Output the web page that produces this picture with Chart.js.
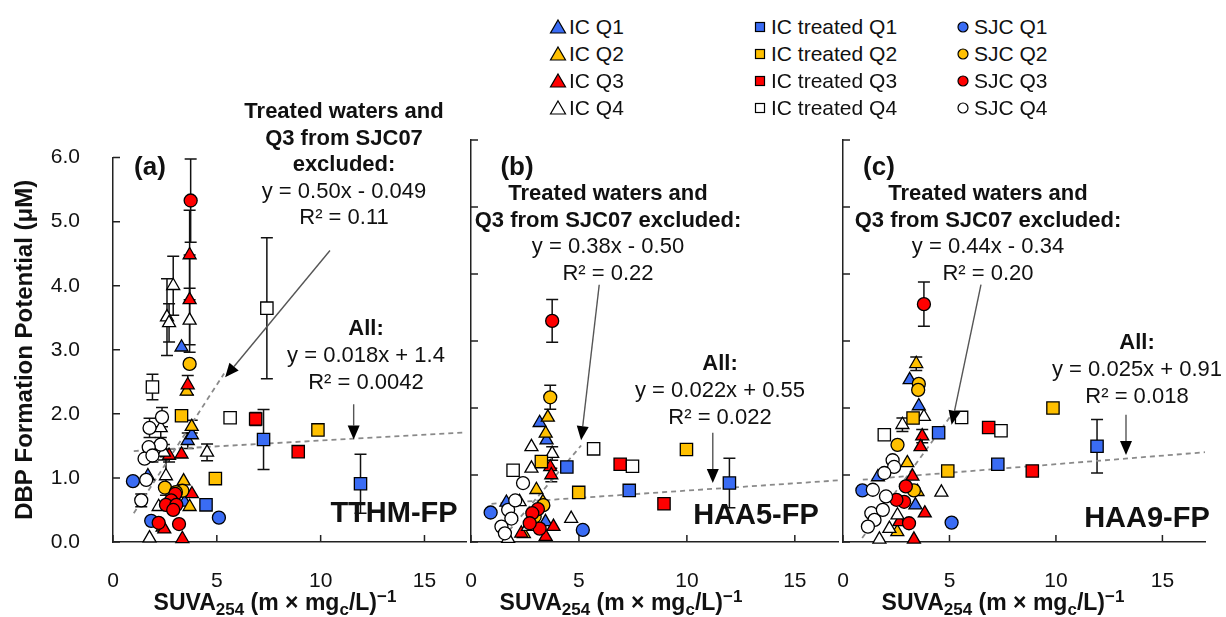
<!DOCTYPE html>
<html>
<head>
<meta charset="utf-8">
<script src="https://cdn.jsdelivr.net/npm/chart.js@4.4.1/dist/chart.umd.min.js"></script>
<style>
  body { margin: 0; width: 1226px; height: 617px; background: #fff; position: relative; overflow: hidden;
         font-family: "Liberation Sans", Arial, sans-serif; color: #111; }
  canvas { position: absolute; top: 120px; }
  .note { position: absolute; transform: translateX(-50%); text-align: center; white-space: nowrap;
          font-size: 22px; line-height: 26.5px; }
  .lab { position: absolute; transform: translate(-50%, -50%); font-weight: bold; font-size: 26px; white-space: nowrap; }
  .big { position: absolute; transform: translate(-50%, -50%); font-weight: bold; font-size: 29px; white-space: nowrap; }
  .xt { position: absolute; transform: translate(-50%, -50%); font-weight: bold; font-size: 23px; white-space: nowrap; }
  .xt .sb { font-size: 17px; position: relative; top: 5px; }
  .xt .sp { font-size: 17px; position: relative; top: -8px; }
  .leg { position: absolute; display: flex; align-items: center; height: 26px; font-size: 21px; white-space: nowrap; }
  .leg svg { width: 20px; height: 20px; margin-right: 1px; }
</style>
</head>
<body>
<canvas id="tthm" width="476" height="497" style="left:0px"></canvas>
<canvas id="haa5" width="448" height="497" style="left:400px"></canvas>
<canvas id="haa9" width="443" height="497" style="left:772px"></canvas>

<div id="legend"></div>

<div class="lab" style="left:150px; top:166px">(a)</div>
<div class="lab" style="left:517px; top:166px">(b)</div>
<div class="lab" style="left:879px; top:166px">(c)</div>

<div class="note" style="left:344px; top:98px"><b>Treated waters and<br>Q3 from SJC07<br>excluded:</b><br>y = 0.50x - 0.049<br>R² = 0.11</div>
<div class="note" style="left:366px; top:314px; line-height:27px"><b>All:</b><br>y = 0.018x + 1.4<br>R² = 0.0042</div>

<div class="note" style="left:608px; top:180px"><b>Treated waters and<br>Q3 from SJC07 excluded:</b><br>y = 0.38x - 0.50<br>R² = 0.22</div>
<div class="note" style="left:720px; top:349px; line-height:27px"><b>All:</b><br>y = 0.022x + 0.55<br>R² = 0.022</div>

<div class="note" style="left:988px; top:180px"><b>Treated waters and<br>Q3 from SJC07 excluded:</b><br>y = 0.44x - 0.34<br>R² = 0.20</div>
<div class="note" style="left:1137px; top:328px; line-height:27px"><b>All:</b><br>y = 0.025x + 0.91<br>R² = 0.018</div>

<div class="big" style="left:394px; top:512px">TTHM-FP</div>
<div class="big" style="left:756px; top:514px">HAA5-FP</div>
<div class="big" style="left:1147px; top:517px">HAA9-FP</div>

<div class="xt" style="left:275px; top:602px">SUVA<span class="sb">254</span> (m × mg<span class="sb">c</span>/L)<span class="sp">−1</span></div>
<div class="xt" style="left:621px; top:602px">SUVA<span class="sb">254</span> (m × mg<span class="sb">c</span>/L)<span class="sp">−1</span></div>
<div class="xt" style="left:1003px; top:602px">SUVA<span class="sb">254</span> (m × mg<span class="sb">c</span>/L)<span class="sp">−1</span></div>

<script>
// Ejes
const xTicks = [0, 5, 10, 15];
const yTicks = [0, 1, 2, 3, 4, 5, 6];

// Series: [SUVA, DBP-FP, error]
// (a) TTHM-FP
const tthmIcQ1 = [[1.68,1.03,0],[3.3,3.04,0],[3.6,1.58,0.12],[3.8,1.67,0],[3.45,0.62,0]];
const tthmIcQ2 = [[3.79,1.8,0.1],[3.69,0.55,0],[2.39,0.23,0],[3.55,2.35,0],[3.4,0.95,0]];
const tthmIcQ3 = [[3.69,4.48,0.7],[3.69,3.78,0.7],[3.6,2.45,0.15],[2.7,1.35,0.1],[3.3,1.37,0],[3.8,0.75,0],[2.47,0.2,0],[3.34,0.05,0]];
const tthmIcQ4 = [[2.9,4.0,0.46],[2.6,3.51,0.6],[2.7,3.42,0.3],[3.69,3.46,0.5],[2.3,1.78,0.15],[2.55,1.03,0.3],[4.53,1.4,0.13],[2.2,0.55,0],[1.76,0.06,0],[2.45,1.4,0.12]];
const tthmTrQ1 = [[4.48,0.58,0],[7.25,1.6,0.47],[11.92,0.91,0.46]];
const tthmTrQ2 = [[3.3,1.97,0],[4.93,0.99,0],[9.87,1.75,0]];
const tthmTrQ3 = [[6.87,1.92,0.1],[8.92,1.41,0]];
const tthmTrQ4 = [[1.9,2.42,0.2],[5.64,1.94,0],[7.41,3.65,1.1]];
const tthmSjcQ1 = [[0.96,0.95,0],[1.84,0.33,0],[5.1,0.38,0]];
const tthmSjcQ2 = [[3.69,2.78,0],[2.5,0.85,0],[3.34,0.8,0],[3.03,0.78,0]];
const tthmSjcQ3 = [[3.74,5.33,0.65],[3.0,0.75,0],[2.8,0.65,0],[2.55,0.58,0],[3.05,0.58,0],[2.2,0.3,0],[3.18,0.28,0],[2.9,0.5,0]];
const tthmSjcQ4 = [[2.36,1.95,0.15],[1.76,1.78,0.15],[2.3,1.52,0],[1.72,1.48,0],[1.52,1.3,0],[1.6,0.97,0],[1.36,0.65,0.1],[1.9,1.35,0.1]];

// (b) HAA5-FP
const haa5IcQ1 = [[1.64,0.59,0],[3.18,1.78,0],[3.5,1.52,0],[3.45,0.3,0]];
const haa5IcQ2 = [[3.56,1.86,0],[3.46,1.62,0],[3.03,0.78,0],[3.33,0.6,0],[2.45,0.12,0]];
const haa5IcQ3 = [[3.67,1.12,0],[3.72,1.0,0.1],[3.82,0.23,0],[3.46,0.08,0],[2.33,0.13,0],[2.75,0.32,0]];
const haa5IcQ4 = [[2.8,1.42,0],[3.76,1.32,0.1],[2.8,1.1,0],[2.64,0.23,0],[4.64,0.35,0],[1.72,0.05,0],[2.25,0.6,0]];
const haa5TrQ1 = [[4.44,1.12,0],[7.33,0.77,0],[11.97,0.88,0.37]];
const haa5TrQ2 = [[3.26,1.2,0],[4.99,0.74,0],[9.98,1.38,0]];
const haa5TrQ3 = [[6.91,1.16,0],[8.94,0.57,0]];
const haa5TrQ4 = [[1.95,1.07,0],[5.68,1.39,0],[7.48,1.13,0]];
const haa5SjcQ1 = [[0.91,0.44,0],[5.18,0.18,0]];
const haa5SjcQ2 = [[3.67,2.16,0.18],[3.35,0.55,0],[2.95,0.38,0]];
const haa5SjcQ3 = [[3.76,3.3,0.32],[3.1,0.49,0],[2.84,0.43,0],[3.18,0.2,0],[2.72,0.28,0]];
const haa5SjcQ4 = [[2.41,0.88,0],[1.72,0.48,0],[1.87,0.35,0],[1.41,0.23,0],[1.57,0.13,0],[2.05,0.62,0]];

// (c) HAA9-FP
const haa9IcQ1 = [[1.64,0.97,0],[3.13,2.42,0],[3.56,2.03,0],[3.4,0.55,0]];
const haa9IcQ2 = [[3.44,2.66,0.1],[3.02,1.18,0],[3.5,0.75,0],[2.55,0.15,0]];
const haa9IcQ3 = [[3.72,1.58,0.1],[3.64,1.42,0],[3.26,0.98,0],[3.84,0.43,0],[3.33,0.04,0],[2.65,0.3,0]];
const haa9IcQ4 = [[3.8,1.87,0],[2.79,1.75,0.1],[2.56,0.4,0],[2.18,0.2,0],[4.62,0.74,0],[1.71,0.04,0]];
const haa9TrQ1 = [[4.49,1.63,0],[7.27,1.16,0],[11.93,1.43,0.4]];
const haa9TrQ2 = [[3.29,1.85,0],[4.92,1.06,0],[9.86,2.0,0]];
const haa9TrQ3 = [[6.84,1.71,0],[8.89,1.06,0]];
const haa9TrQ4 = [[1.94,1.6,0],[5.57,1.86,0],[7.42,1.66,0]];
const haa9SjcQ1 = [[0.91,0.77,0],[5.1,0.29,0]];
const haa9SjcQ2 = [[3.56,2.36,0],[3.53,2.27,0],[2.56,1.45,0],[3.33,0.77,0]];
const haa9SjcQ3 = [[3.8,3.55,0.33],[2.95,0.83,0],[2.87,0.6,0],[2.51,0.63,0],[3.1,0.28,0]];
const haa9SjcQ4 = [[2.33,1.22,0],[2.4,1.12,0],[1.94,1.03,0],[1.4,0.78,0],[2.02,0.68,0],[1.33,0.43,0],[1.48,0.33,0],[1.17,0.23,0],[1.87,0.48,0]];

// Lineas de tendencia (extremos)
const tthmTrendAll = [[1.0,1.42],[17,1.71]];
const tthmTrendExcl = [[1.0,0.45],[5.35,2.63]];
const haa5TrendAll = [[0.95,0.57],[17,0.92]];
const haa5TrendExcl = [[1.5,0.07],[5.1,1.44]];
const haa9TrendAll = [[0.93,0.93],[17,1.34]];
const haa9TrendExcl = [[0.9,0.06],[5.1,1.9]];

// Flechas: [desde, hasta] en unidades de datos
const tthmArrows = [[[10.45,4.55],[5.4,2.57]], [[11.59,2.15],[11.59,1.6]]];
const haa5Arrows = [[[5.94,3.84],[5.1,1.52]], [[11.2,1.63],[11.2,0.88]]];
const haa9Arrows = [[[6.48,3.84],[5.1,1.75]], [[13.29,1.9],[13.29,1.3]]];

const BLUE = '#3a6cf4', YELLOW = '#ffc000', RED = '#ff0000', WHITE = '#ffffff';
const FONT = '"Liberation Sans", Arial, sans-serif';

const series = [
  { label: 'IC Q1', shape: 'triangle', color: BLUE },
  { label: 'IC Q2', shape: 'triangle', color: YELLOW },
  { label: 'IC Q3', shape: 'triangle', color: RED },
  { label: 'IC Q4', shape: 'triangle', color: WHITE },
  { label: 'IC treated Q1', shape: 'rect', color: BLUE },
  { label: 'IC treated Q2', shape: 'rect', color: YELLOW },
  { label: 'IC treated Q3', shape: 'rect', color: RED },
  { label: 'IC treated Q4', shape: 'rect', color: WHITE },
  { label: 'SJC Q1', shape: 'circle', color: BLUE },
  { label: 'SJC Q2', shape: 'circle', color: YELLOW },
  { label: 'SJC Q3', shape: 'circle', color: RED },
  { label: 'SJC Q4', shape: 'circle', color: WHITE }
];
const radius = { triangle: 7.5, rect: 8.7, circle: 6.5 };

Chart.defaults.font.family = FONT;
Chart.defaults.color = '#111';

// Barras de error
const errorBars = {
  id: 'errorBars',
  beforeDatasetsDraw(chart) {
    const { ctx, scales: { x, y } } = chart;
    ctx.save();
    ctx.strokeStyle = '#111';
    ctx.lineWidth = 1.5;
    chart.data.datasets.forEach(ds => {
      ds.data.forEach(p => {
        if (!p.err) return;
        const px = x.getPixelForValue(p.x);
        const top = y.getPixelForValue(p.y + p.err);
        const bot = y.getPixelForValue(Math.max(0, p.y - p.err));
        ctx.beginPath();
        ctx.moveTo(px, top); ctx.lineTo(px, bot);
        ctx.moveTo(px - 6, top); ctx.lineTo(px + 6, top);
        ctx.moveTo(px - 6, bot); ctx.lineTo(px + 6, bot);
        ctx.stroke();
      });
    });
    ctx.restore();
  }
};

// Marcas de eje hacia dentro
const inTicks = {
  id: 'inTicks',
  beforeDatasetsDraw(chart) {
    const { ctx, chartArea: a, scales: { x, y } } = chart;
    ctx.save();
    ctx.strokeStyle = '#222';
    ctx.lineWidth = 1.5;
    ctx.beginPath();
    y.ticks.forEach(t => { const py = y.getPixelForValue(t.value); ctx.moveTo(a.left, py); ctx.lineTo(a.left + 7, py); });
    x.ticks.forEach(t => { const px = x.getPixelForValue(t.value); ctx.moveTo(px, a.bottom); ctx.lineTo(px, a.bottom - 7); });
    ctx.stroke();
    ctx.restore();
  }
};

function arrowPlugin(arrows) {
  return {
    id: 'arrows',
    afterDatasetsDraw(chart) {
      const { ctx, scales: { x, y } } = chart;
      ctx.save();
      arrows.forEach(([from, to]) => {
        const x1 = x.getPixelForValue(from[0]), y1 = y.getPixelForValue(from[1]);
        const x2 = x.getPixelForValue(to[0]), y2 = y.getPixelForValue(to[1]);
        const ang = Math.atan2(y2 - y1, x2 - x1);
        const hl = 14, hw = 6;
        const bx = x2 - Math.cos(ang) * hl, by = y2 - Math.sin(ang) * hl;
        ctx.strokeStyle = '#555';
        ctx.lineWidth = 1.4;
        ctx.beginPath(); ctx.moveTo(x1, y1); ctx.lineTo(bx, by); ctx.stroke();
        ctx.fillStyle = '#000';
        ctx.beginPath();
        ctx.moveTo(x2, y2);
        ctx.lineTo(bx - Math.sin(ang) * hw, by + Math.cos(ang) * hw);
        ctx.lineTo(bx + Math.sin(ang) * hw, by - Math.cos(ang) * hw);
        ctx.closePath(); ctx.fill();
      });
      ctx.restore();
    }
  };
}

function makePanel(id, seriesData, trendAll, trendExcl, arrows, first) {
  const datasets = seriesData.map((pts, i) => ({
    label: series[i].label,
    data: pts.map(p => ({ x: p[0], y: p[1], err: p[2] })),
    pointStyle: series[i].shape,
    pointRadius: radius[series[i].shape],
    backgroundColor: series[i].color,
    borderColor: '#000',
    borderWidth: 1.3,
    showLine: false,
    clip: false,
    order: 12 - i
  }));
  [trendAll, trendExcl].forEach(t => datasets.push({
    label: 'trend',
    data: t.map(p => ({ x: p[0], y: p[1] })),
    showLine: true,
    pointRadius: 0,
    borderColor: '#8a8a8a',
    borderWidth: 1.8,
    borderDash: [5, 4],
    order: 50
  }));

  new Chart(document.getElementById(id), {
    type: 'scatter',
    data: { datasets },
    options: {
      responsive: false,
      animation: false,
      devicePixelRatio: 1,
      events: [],
      layout: { padding: { top: 20, right: 5, left: 0, bottom: 0 } },
      plugins: { legend: { display: false }, tooltip: { enabled: false } },
      scales: {
        x: {
          type: 'linear', min: 0, max: 17,
          afterBuildTicks: ax => { ax.ticks = xTicks.map(v => ({ value: v })); },
          afterFit: ax => { ax.height = 75; },
          grid: { display: false },
          border: { display: true, color: '#222', width: 1.5 },
          ticks: { font: { size: 21 }, color: '#111', padding: 19, maxRotation: 0, autoSkip: false,
                   callback: v => String(v) }
        },
        y: {
          type: 'linear', min: 0, max: 6,
          afterBuildTicks: ax => { ax.ticks = yTicks.map(v => ({ value: v })); },
          afterFit: ax => { ax.width = first ? 113 : 71; },
          grid: { display: false },
          border: { display: true, color: '#222', width: 1.5 },
          ticks: { display: first, font: { size: 21 }, color: '#111', padding: 25,
                   callback: v => v.toFixed(1) },
          title: { display: first, text: 'DBP Formation Potential (μM)', color: '#111',
                   font: { size: 24, weight: 'bold' }, padding: { top: 10.5, bottom: 0 } }
        }
      }
    },
    plugins: [inTicks, errorBars, arrowPlugin(arrows)]
  });
}

makePanel('tthm',
  [tthmIcQ1, tthmIcQ2, tthmIcQ3, tthmIcQ4, tthmTrQ1, tthmTrQ2, tthmTrQ3, tthmTrQ4, tthmSjcQ1, tthmSjcQ2, tthmSjcQ3, tthmSjcQ4],
  tthmTrendAll, tthmTrendExcl, tthmArrows, true);
makePanel('haa5',
  [haa5IcQ1, haa5IcQ2, haa5IcQ3, haa5IcQ4, haa5TrQ1, haa5TrQ2, haa5TrQ3, haa5TrQ4, haa5SjcQ1, haa5SjcQ2, haa5SjcQ3, haa5SjcQ4],
  haa5TrendAll, haa5TrendExcl, haa5Arrows, false);
makePanel('haa9',
  [haa9IcQ1, haa9IcQ2, haa9IcQ3, haa9IcQ4, haa9TrQ1, haa9TrQ2, haa9TrQ3, haa9TrQ4, haa9SjcQ1, haa9SjcQ2, haa9SjcQ3, haa9SjcQ4],
  haa9TrendAll, haa9TrendExcl, haa9Arrows, false);

// Leyenda en tres columnas
const legendCols = [548, 750, 953];
const legendRows = [14, 41, 68, 95];
const legend = document.getElementById('legend');
series.forEach((s, i) => {
  const col = Math.floor(i / 4), row = i % 4;
  let shape;
  if (s.shape === 'triangle') shape = '<polygon points="10,3 17.5,16 2.5,16" fill="' + s.color + '" stroke="#000" stroke-width="1.2"/>';
  else if (s.shape === 'rect') shape = '<rect x="5.5" y="5.5" width="9" height="9" fill="' + s.color + '" stroke="#000" stroke-width="1.2"/>';
  else shape = '<circle cx="10" cy="10" r="5" fill="' + s.color + '" stroke="#000" stroke-width="1.2"/>';
  const div = document.createElement('div');
  div.className = 'leg';
  div.style.left = legendCols[col] + 'px';
  div.style.top = legendRows[row] + 'px';
  div.innerHTML = '<svg viewBox="0 0 20 20">' + shape + '</svg><span>' + s.label + '</span>';
  legend.appendChild(div);
});
</script>
</body>
</html>
